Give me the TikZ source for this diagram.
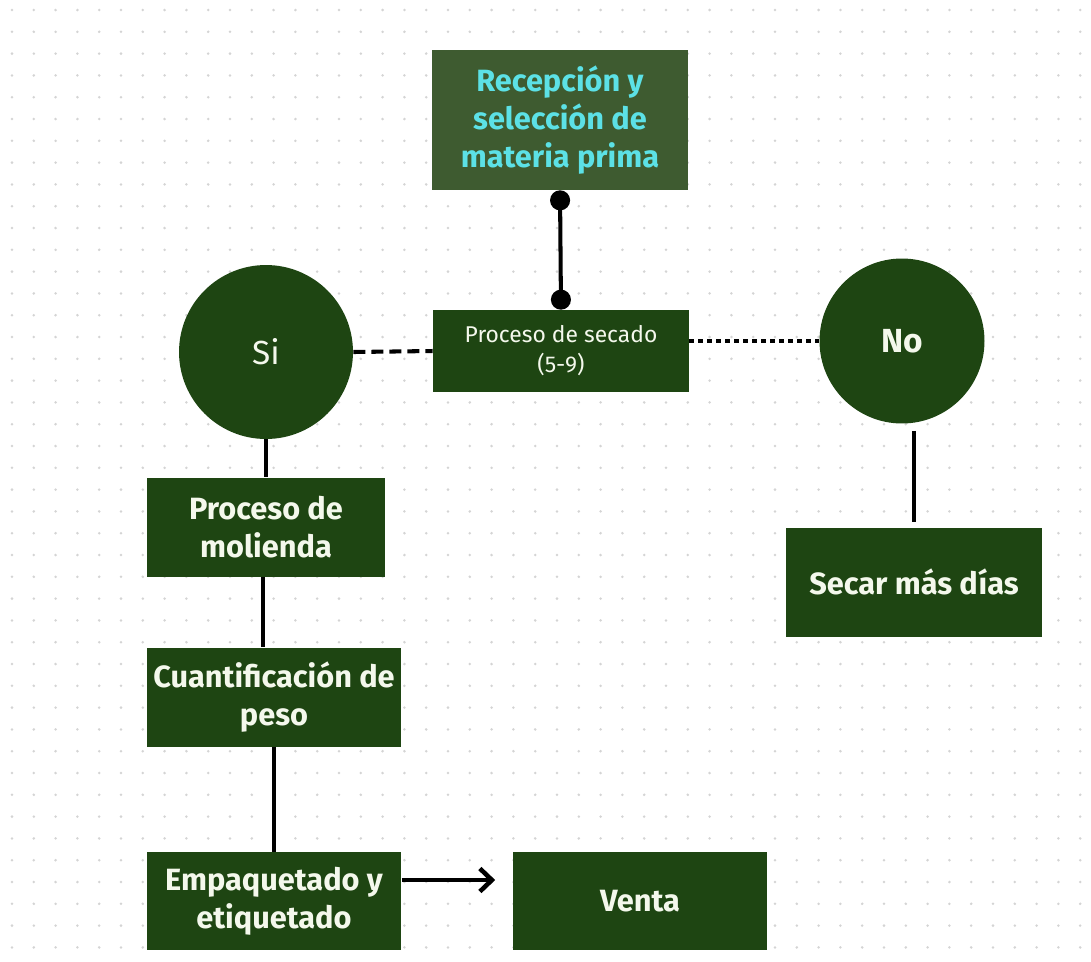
\documentclass[tikz,border=0pt]{standalone}
\usepackage{fontspec}
\setmainfont{Fira Sans}
\usetikzlibrary{positioning,arrows.meta}
\definecolor{hoja}{HTML}{1E4512}
\definecolor{oliva}{HTML}{3E5B30}
\definecolor{celeste}{HTML}{5CE1E6}
\definecolor{crema}{HTML}{F4F8EC}
\definecolor{punto}{HTML}{D4D4D4}
\begin{document}
\begin{tikzpicture}[x=0.02cm,y=-0.02cm,
  caja/.style={fill=hoja,text=crema,align=center,inner sep=0pt,
    font=\bfseries\fontsize{17.5}{21.5}\selectfont},
  bola/.style={circle,fill=hoja,text=crema,inner sep=0pt,
    font=\fontsize{19}{22}\selectfont},
  linea/.style={black,line width=2.3pt}]
\useasboundingbox (0,0) rectangle (1091,961);
\fill[white] (0,0) rectangle (1091,961);
% fondo de puntos
\foreach \i in {0,...,49}
  \foreach \j in {0,...,43}
    \fill[punto] (12+\i*21.8,10+\j*21.8) circle (0.028cm);
% nodos
\node[caja,fill=oliva,text=celeste,minimum width=5.12cm,minimum height=2.8cm,font=\bfseries\fontsize{17.5}{21.5}\selectfont] (recep) at (560,120) {Recepción y\\selección de\\materia prima};
\node[caja,minimum width=5.12cm,minimum height=1.64cm,font=\fontsize{13}{17}\selectfont] (secado) at (561,351) {Proceso de secado\\(5-9)};
\node[bola,minimum size=3.48cm] (si) at (266,352) {Si};
\node[bola,minimum size=3.3cm,font=\bfseries\fontsize{19}{22}\selectfont] (no) at (902,341) {No};
\node[caja,minimum width=5.12cm,minimum height=2.18cm] (secar) at (914,582) {Secar más días};
\node[caja,minimum width=4.78cm,minimum height=1.98cm] (molienda) at (266,527) {Proceso de\\molienda};
\node[caja,minimum width=5.1cm,minimum height=1.98cm] (cuanti) at (274,697) {Cuantificación de\\peso};
\node[caja,minimum width=5.1cm,minimum height=1.96cm] (empaque) at (274,901) {Empaquetado y\\etiquetado};
\node[caja,minimum width=5.1cm,minimum height=1.96cm] (venta) at (640,901) {Venta};
% conectores
\draw[linea,{Circle[length=0.4cm]}-{Circle[length=0.4cm]}] (recep.south) -- (secado.north);
\draw[linea,dash pattern=on 0.24cm off 0.12cm] (si.east) -- (secado.west);
\draw[linea,line width=2.8pt,dash pattern=on 0.1cm off 0.08cm] (no.west -| secado.east) -- (no.west);
\draw[linea,shorten <=0.14cm,shorten >=0.1cm] (secar.north |- no.south) -- (secar.north);
\draw[linea] (si.south) -- (molienda.south |- si.south) -- (molienda.north);
\draw[linea] ([xshift=-0.06cm]molienda.south) -- ([xshift=-0.06cm]molienda.south |- cuanti.north);
\draw[linea] (cuanti.south) -- (empaque.north);
\draw[linea,-{Straight Barb[length=0.24cm,width=0.46cm,line width=2.6pt]},shorten >=0.34cm] ([yshift=0.42cm]empaque.east) -- ([yshift=0.42cm]venta.west);
\end{tikzpicture}
\end{document}
